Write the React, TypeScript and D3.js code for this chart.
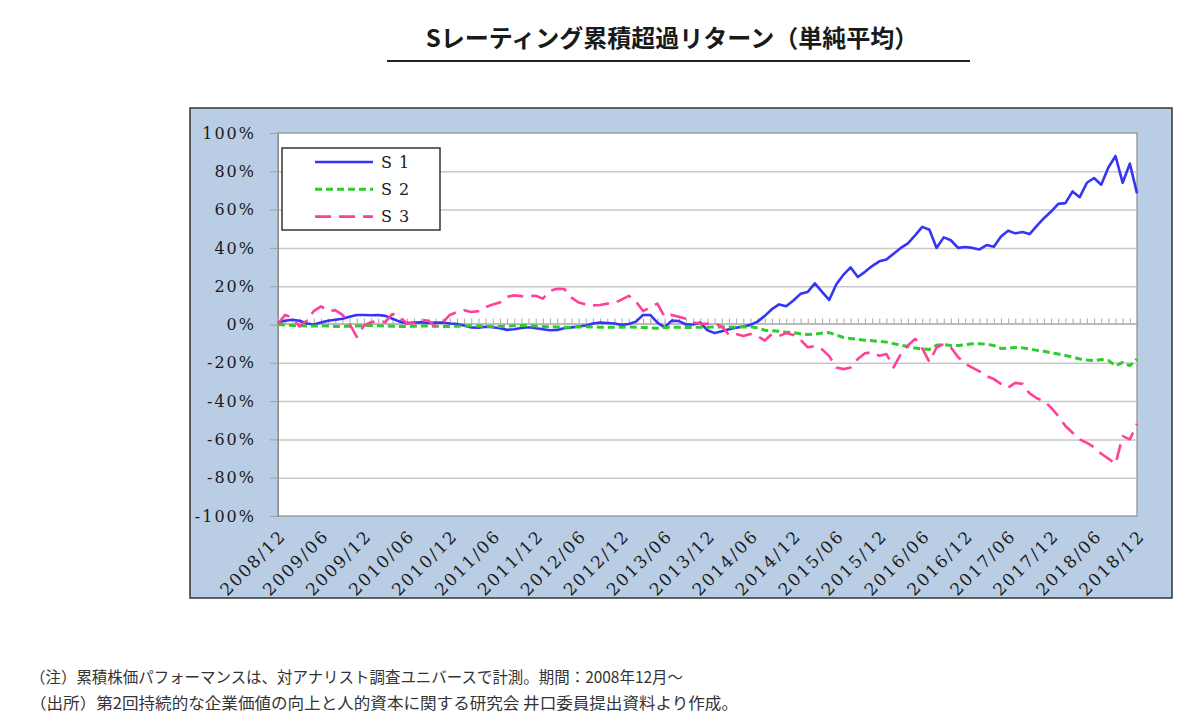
import React, { useEffect, useRef } from 'react';
import * as d3 from 'd3';

// monthly points, 2008/12 .. 2018/12 (121 months), cumulative excess return in %
const xTickLabels = [
  '2008/12', '2009/06', '2009/12', '2010/06', '2010/12', '2011/06', '2011/12',
  '2012/06', '2012/12', '2013/06', '2013/12', '2014/06', '2014/12', '2015/06',
  '2015/12', '2016/06', '2016/12', '2017/06', '2017/12', '2018/06', '2018/12'
];

const yTicks = [100, 80, 60, 40, 20, 0, -20, -40, -60, -80, -100];

const s1 = [
  1.0, 2.0, 2.5, 2.0, 0.5, 0.0, 1.0, 2.0, 2.5, 3.0,
  4.0, 5.0, 5.0, 4.8, 5.0, 4.5, 3.0, 1.5, 0.7, 1.0,
  1.2, 0.8, 1.0, 1.0, 0.5, 0.3, -0.5, -1.5, -1.7, -1.2,
  -1.4, -2.0, -2.8, -2.5, -1.8, -1.4, -2.0, -2.5, -3.0, -2.8,
  -2.0, -1.5, -1.0, -0.5, 0.5, 1.0, 0.8, 0.5, -0.2, 0.3,
  1.5, 5.0, 5.0, 1.0, -1.5, 2.0, 1.8, 0.0, 0.0, 1.0,
  -3.0, -4.5, -3.5, -2.5, -1.7, -1.0, -0.2, 1.5, 4.5, 8.0,
  10.5, 9.5, 12.5, 16.0, 17.0, 21.5, 17.0, 12.8, 21.0, 26.0,
  29.8, 24.8, 27.5, 30.5, 33.0, 34.0, 37.0, 40.0, 42.4, 46.5,
  51.0, 49.5, 40.0, 45.5, 44.0, 40.0, 40.5, 40.0, 39.2, 41.5,
  40.6, 46.0, 49.0, 47.6, 48.3, 47.2, 51.5, 55.5, 59.0, 63.0,
  63.4, 69.5, 66.5, 74.0, 76.5, 73.0, 82.0, 88.0, 74.0, 84.0, 68.5
];

const s2 = [
  0, -0.3, -0.5, -0.6, -0.8, -0.8, -0.7, -0.8, -1.0, -1.0,
  -0.9, -0.8, -0.6, -0.5, -0.6, -0.8, -0.9, -1.0, -1.0, -0.9,
  -0.8, -0.8, -0.9, -1.0, -1.0, -0.9, -0.8, -0.7, -0.8, -0.9,
  -1.0, -1.0, -0.9, -0.7, -0.5, -0.6, -0.8, -1.0, -1.2, -1.3,
  -1.4, -1.4, -1.3, -1.2, -1.3, -1.4, -1.4, -1.5, -1.4, -1.3,
  -1.4, -1.6, -1.8, -1.9, -1.6, -1.4, -1.5, -1.6, -1.5, -1.4,
  -1.4, -1.3, -1.2, -1.3, -1.4, -1.3, -1.2, -1.8, -3.0, -3.2,
  -3.5, -4.0, -4.2, -4.8, -5.2, -5.0, -4.5, -4.2, -5.5, -6.8,
  -7.3, -7.8, -8.2, -8.5, -8.8, -9.2, -10.0, -10.8, -11.5, -12.3,
  -12.8, -13.0, -10.8, -10.5, -11.0, -11.0, -10.5, -10.1, -10.1, -10.3,
  -11.0, -12.5, -12.3, -12.0, -12.2, -12.8, -13.5, -14.0, -14.8, -15.4,
  -16.2, -17.0, -18.0, -18.5, -18.9, -18.3, -18.8, -21.5, -19.8, -21.5, -18.0
];

const s3 = [
  0.3, 5.0, 3.5, -1.0, 2.0, 7.0, 9.5, 7.0, 7.5, 5.0,
  0.3, -6.5, -0.5, 1.2, 2.0, 1.2, 5.5, 4.0, 0.5, 0.8,
  2.5, 2.0, -1.0, 1.0, 5.0, 6.5, 7.5, 6.5, 7.0, 9.0,
  10.5, 11.5, 14.5, 15.2, 14.8, 14.7, 15.0, 13.5, 17.5, 18.7,
  18.5, 14.0, 11.5, 10.5, 10.0, 10.2, 10.9, 11.2, 13.0, 15.0,
  12.0, 7.0, 9.0, 10.9, 4.0, 5.0, 4.0, 3.0, 1.0, 0.5,
  0.4, 0.6, -1.0, -5.5, -5.0, -6.0, -5.0, -6.0, -8.4, -5.0,
  -6.0, -4.5, -5.5, -8.0, -11.9, -11.2, -13.0, -16.5, -22.5, -23.3,
  -22.5, -18.0, -15.0, -14.5, -16.3, -15.4, -22.4, -15.4, -11.0, -7.5,
  -12.5, -19.5, -12.0, -10.1, -12.0, -17.0, -20.5, -22.5, -24.5, -27.0,
  -28.5, -31.0, -33.0, -30.5, -31.0, -36.0, -38.5, -40.0, -43.4, -47.8,
  -53.0, -56.5, -60.0, -61.8, -64.0, -67.5, -70.0, -72.8, -58.3, -60.0, -51.8
];

const seriesNames = ['S 1', 'S 2', 'S 3'];

const title = 'Sレーティング累積超過リターン（単純平均）';
const notes = [
  '（注）累積株価パフォーマンスは、対アナリスト調査ユニバースで計測。期間：2008年12月～',
  '（出所）第2回持続的な企業価値の向上と人的資本に関する研究会 井口委員提出資料より作成。'
];

const App: React.FC = () => {
  const svgRef = useRef<SVGSVGElement>(null);

  useEffect(() => {
    if (!svgRef.current) return;
    const svg = d3.select(svgRef.current);
    svg.html('');

    const plot = { left: 278, right: 1137, top: 133, bottom: 516 };
    const serif = '"DejaVu Serif", serif';
    const jp = '"Noto Sans CJK JP", sans-serif';

    const x = d3.scaleLinear().domain([0, s1.length - 1]).range([plot.left, plot.right]);
    const y = d3.scaleLinear().domain([-100, 100]).range([plot.bottom, plot.top]);

    // title + underline
    svg.append('text')
      .attr('x', 672).attr('y', 47)
      .attr('text-anchor', 'middle')
      .style('font-family', jp).style('font-weight', 700).style('font-size', '24px')
      .style('fill', '#1a1a1a')
      .text(title);
    svg.append('line')
      .attr('x1', 387).attr('x2', 970).attr('y1', 61).attr('y2', 61)
      .attr('stroke', '#222').attr('stroke-width', 2);

    // chart panel
    svg.append('rect')
      .attr('x', 190).attr('y', 108).attr('width', 982).attr('height', 490)
      .attr('fill', '#b9cde5').attr('stroke', '#333').attr('stroke-width', 1.5);
    svg.append('rect')
      .attr('x', plot.left).attr('y', plot.top)
      .attr('width', plot.right - plot.left).attr('height', plot.bottom - plot.top)
      .attr('fill', '#fff').attr('stroke', '#8c8c8c').attr('stroke-width', 1.2);

    // gridlines
    svg.append('g')
      .attr('transform', `translate(${plot.left},0)`)
      .call(d3.axisLeft(y).tickValues(yTicks.filter(v => v !== 0 && Math.abs(v) !== 100))
        .tickSize(-(plot.right - plot.left)).tickFormat(() => ''))
      .call(g => g.select('.domain').remove())
      .call(g => g.selectAll('line').attr('stroke', '#c8c8c8').attr('stroke-width', 1.5));

    // y axis
    svg.append('g')
      .attr('transform', `translate(${plot.left},0)`)
      .call(d3.axisLeft(y).tickValues(yTicks).tickSize(8).tickPadding(14)
        .tickFormat(d => `${d}%`))
      .call(g => g.select('.domain').attr('stroke', '#8c8c8c'))
      .call(g => g.selectAll('line').attr('stroke', '#a0a0a0'))
      .call(g => g.selectAll('text')
        .style('font-family', serif).style('font-size', '16px')
        .style('letter-spacing', '2px').style('fill', '#1a1a1a'));

    // zero axis with monthly ticks
    svg.append('g')
      .attr('transform', `translate(0,${y(0) - 1})`)
      .call(d3.axisBottom(x).tickValues(d3.range(s1.length)).tickSize(-5).tickFormat(() => ''))
      .call(g => g.select('.domain').attr('stroke', '#a6a6a6').attr('stroke-width', 1.5))
      .call(g => g.selectAll('.tick line').attr('stroke', '#a6a6a6'));

    // x tick labels (every 6 months)
    svg.append('g')
      .selectAll('text')
      .data(xTickLabels)
      .enter().append('text')
      .attr('transform', (_, i) => `translate(${x(i * 6) + 9},537) rotate(-45)`)
      .attr('text-anchor', 'end')
      .style('font-family', serif).style('font-size', '17px')
      .style('letter-spacing', '2px').style('fill', '#1a1a1a')
      .text(d => d);

    const line = d3.line<number>().x((_, i) => x(i)).y(d => y(d));
    const styles = [
      { color: '#3535f5', dash: null, width: 2.6 },
      { color: '#2fcc2f', dash: '7,4', width: 3 },
      { color: '#ff3f98', dash: '16,8', width: 2.6 }
    ];
    [s1, s2, s3].forEach((s, k) => {
      svg.append('path')
        .datum(s)
        .attr('d', line)
        .attr('fill', 'none')
        .attr('stroke', styles[k].color)
        .attr('stroke-width', styles[k].width)
        .attr('stroke-linejoin', 'round')
        .attr('stroke-dasharray', styles[k].dash);
    });

    // legend
    const lg = svg.append('g');
    lg.append('rect')
      .attr('x', 282).attr('y', 148).attr('width', 158).attr('height', 82)
      .attr('fill', '#fff').attr('stroke', '#333').attr('stroke-width', 1.5);
    seriesNames.forEach((name, k) => {
      const ly = 162 + k * 27.3;
      lg.append('line')
        .attr('x1', 315).attr('x2', 373).attr('y1', ly).attr('y2', ly)
        .attr('stroke', styles[k].color).attr('stroke-width', styles[k].width)
        .attr('stroke-dasharray', styles[k].dash);
      lg.append('text')
        .attr('x', 381).attr('y', ly).attr('dy', '0.36em')
        .style('font-family', serif).style('font-size', '16px')
        .style('letter-spacing', '1px').style('fill', '#1a1a1a')
        .text(name);
    });

    // notes
    const noteLengths = [653, 708];
    notes.forEach((t, k) => {
      svg.append('text')
        .attr('x', 30).attr('y', 683 + k * 26)
        .attr('textLength', noteLengths[k]).attr('lengthAdjust', 'spacingAndGlyphs')
        .style('font-family', jp).style('font-size', '15.5px').style('fill', '#333')
        .text(t);
    });
  }, []);

  return (
    <div style={{ position: 'absolute', left: 0, top: 0, background: '#fff' }}>
      <svg ref={svgRef} width={1200} height={715}></svg>
    </div>
  );
};

export default App;
